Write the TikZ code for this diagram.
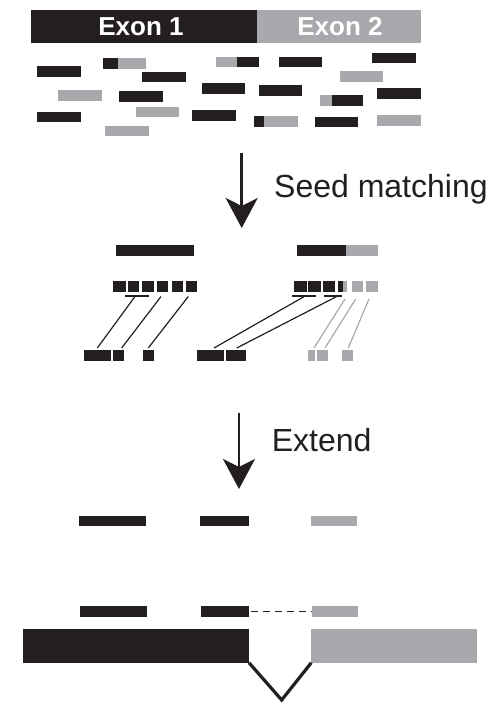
\documentclass[tikz,border=0pt]{standalone}
\usepackage{fontspec}
\setmainfont{Liberation Sans}
\usetikzlibrary{arrows.meta}
\definecolor{blk}{HTML}{231F20}
\definecolor{gry}{HTML}{A9A8AD}
\tikzset{
  bar/.style={inner sep=0pt, outer sep=0pt, draw=none, anchor=north west},
  bk/.style={bar, fill=blk},
  gy/.style={bar, fill=gry},
  rd/.style={minimum height=10.7pt},
  sq/.style={minimum height=11pt},
  link/.style={line width=1.2pt, blk},
  glink/.style={line width=1.2pt, gry},
  bigarrow/.style={line width=2.8pt, blk, -{Stealth[length=30pt,width=32pt,inset=8pt]}},
  lbl/.style={anchor=base west, inner sep=0pt, text=blk, font=\fontsize{32}{36}\selectfont},
  exlbl/.style={anchor=base, inner sep=0pt, text=white, font=\fontsize{26}{30}\selectfont\bfseries}
}
\newcommand{\rdB}[4]{\node[bk,rd,minimum width=#4pt] (#1) at (#2,#3) {};}
\newcommand{\rdG}[4]{\node[gy,rd,minimum width=#4pt] (#1) at (#2,#3) {};}
\newcommand{\sqB}[4]{\node[bk,sq,minimum width=#4pt] (#1) at (#2,#3) {};}
\newcommand{\sqG}[4]{\node[gy,sq,minimum width=#4pt] (#1) at (#2,#3) {};}
\begin{document}
\begin{tikzpicture}[x=1pt,y=-1pt]
\useasboundingbox (0,0) rectangle (500,705);
% exon header
\node[bk,minimum width=226pt,minimum height=33.3pt] (ex1) at (30.7,10) {};
\node[gy,minimum width=164.3pt,minimum height=33.3pt] (ex2) at (256.7,10) {};
\node[exlbl] (ex1l) at (141,35) {Exon 1};
\node[exlbl] (ex2l) at (340,35) {Exon 2};
% reads
\rdB{r1}{36.7}{66}{44}
\rdB{r2a}{103.3}{58.3}{15}\rdG{r2b}{118.3}{58.3}{27.7}
\rdB{r3}{141.7}{71.7}{44}
\rdG{r4a}{216}{56.7}{20.7}\rdB{r4b}{236.7}{56.7}{22.6}
\rdB{r5}{279}{56.7}{43}
\rdB{r6}{372.3}{52.7}{43.7}
\rdG{r7}{339.7}{71}{43}
\rdG{r8}{57.7}{90}{44}
\rdB{r9}{119}{91}{44}
\rdB{r10}{202.3}{83.3}{43}
\rdB{r11}{259}{85}{43}
\rdG{r12a}{319.7}{95}{12.6}\rdB{r12b}{332.3}{95}{30.7}
\rdB{r13}{377}{88.3}{44}
\rdB{r14}{36.7}{111.7}{44}
\rdG{r15}{135.7}{106.7}{43}
\rdB{r16}{192.3}{110}{44}
\rdB{r17a}{254}{116}{10}\rdG{r17b}{264}{116}{33.7}
\rdB{r18}{314.7}{116.7}{43}
\rdG{r19}{377}{115}{44}
\rdG{r20}{105}{125.7}{44}
% seed matching arrow
\coordinate (a1s) at (241.7,153);
\coordinate (a1e) at (241.7,228);
\draw[bigarrow] (a1s) -- (a1e);
\node[lbl] (seedl) at (274,197.3) {Seed matching};
% middle: reads
\node[bk,rd,minimum width=78.3pt] (mL) at (115.7,245) {};
\node[bk,rd,minimum width=48.7pt] (mRa) at (297.3,245) {};
\node[gy,rd,minimum width=31.7pt] (mRb) at (346,245) {};
% seeds left
\sqB{sL1}{113.3}{280.7}{12.4}
\sqB{sL2}{127.7}{280.7}{11.3}
\sqB{sL3}{142.3}{280.7}{11.7}
\sqB{sL4}{156.7}{280.7}{11.6}
\sqB{sL5}{171.7}{280.7}{11.6}
\sqB{sL6}{186}{280.7}{11.3}
% seeds right
\sqB{sR1}{294}{280.7}{12.7}
\sqB{sR2}{308.3}{280.7}{12.7}
\sqB{sR3}{323.3}{280.7}{11.7}
\sqB{sR4a}{337.7}{280.7}{5}
\sqG{sR4b}{342.7}{280.7}{4.6}
\sqG{sR5}{351.7}{280.7}{11.6}
\sqG{sR6}{366}{280.7}{11.7}
% bottom squares
\sqB{bL1}{84}{350}{26.7}
\sqB{bL2}{113.3}{350}{11}
\sqB{bL3}{142.7}{350}{11.3}
\sqB{bR1}{197.3}{350}{26.7}
\sqB{bR2}{226}{350}{19.7}
\sqG{gR1}{307.7}{350}{7.3}
\sqG{gR2}{317.3}{350}{11}
\sqG{gR3}{341.7}{350}{11}
% underlines
\coordinate (uL1) at (125,296); \coordinate (uL2) at (149.3,296);
\coordinate (uR1) at (292.3,296); \coordinate (uR2) at (316,296);
\coordinate (uR3) at (324,296); \coordinate (uR4) at (341.7,296);
\draw[link] (uL1) -- (uL2);
\draw[link] (uR1) -- (uR2);
\draw[link] (uR3) -- (uR4);
% connector ends
\coordinate (tL1) at (135,296.5);   \coordinate (eL1) at (97.3,348);
\coordinate (tL2) at (161,296.5);   \coordinate (eL2) at (121.7,348);
\coordinate (tL3) at (188.3,296.5); \coordinate (eL3) at (148.3,348);
\coordinate (tR1) at (304.3,296.5); \coordinate (eR1) at (214,348);
\coordinate (tR2) at (336.7,296.5); \coordinate (eR2) at (236.7,348);
\coordinate (tG1) at (345,299);     \coordinate (eG1) at (314,348);
\coordinate (tG2) at (355.7,299);   \coordinate (eG2) at (325,348);
\coordinate (tG3) at (369,299);     \coordinate (eG3) at (348.3,348);
\draw[link] (tL1) -- (eL1);
\draw[link] (tL2) -- (eL2);
\draw[link] (tL3) -- (eL3);
\draw[link] (tR1) -- (eR1);
\draw[link] (tR2) -- (eR2);
\draw[glink] (tG1) -- (eG1);
\draw[glink] (tG2) -- (eG2);
\draw[glink] (tG3) -- (eG3);
% extend arrow
\coordinate (a2s) at (239,412.7);
\coordinate (a2e) at (239,489);
\draw[bigarrow] (a2s) -- (a2e);
\node[lbl] (extl) at (271.7,451.7) {Extend};
% extended reads
\node[bk,rd,minimum width=66.7pt] (x1) at (79,515.7) {};
\node[bk,rd,minimum width=48.4pt] (x2) at (200.3,515.7) {};
\node[gy,rd,minimum width=45.7pt] (x3) at (311.3,515.7) {};
\node[bk,rd,minimum width=66.7pt] (y1) at (80,606.3) {};
\node[bk,rd,minimum width=48pt] (y2) at (201.3,606.3) {};
\node[gy,rd,minimum width=45.7pt] (y3) at (312,606.3) {};
\draw[blk, line width=1.4pt, dash pattern=on 7pt off 5pt] (y2.east) ++(2,0) -- (y3.west);
% genome exons
\node[bk,minimum width=225.7pt,minimum height=33.4pt] (g1) at (23.3,629.3) {};
\node[gy,minimum width=165.4pt,minimum height=33.4pt] (g2) at (311.3,629.3) {};
\coordinate (vtip) at (281.7,700);
\draw[blk, line width=3.2pt] (g1.south east) -- (vtip) -- (g2.south west);
\end{tikzpicture}
\end{document}
